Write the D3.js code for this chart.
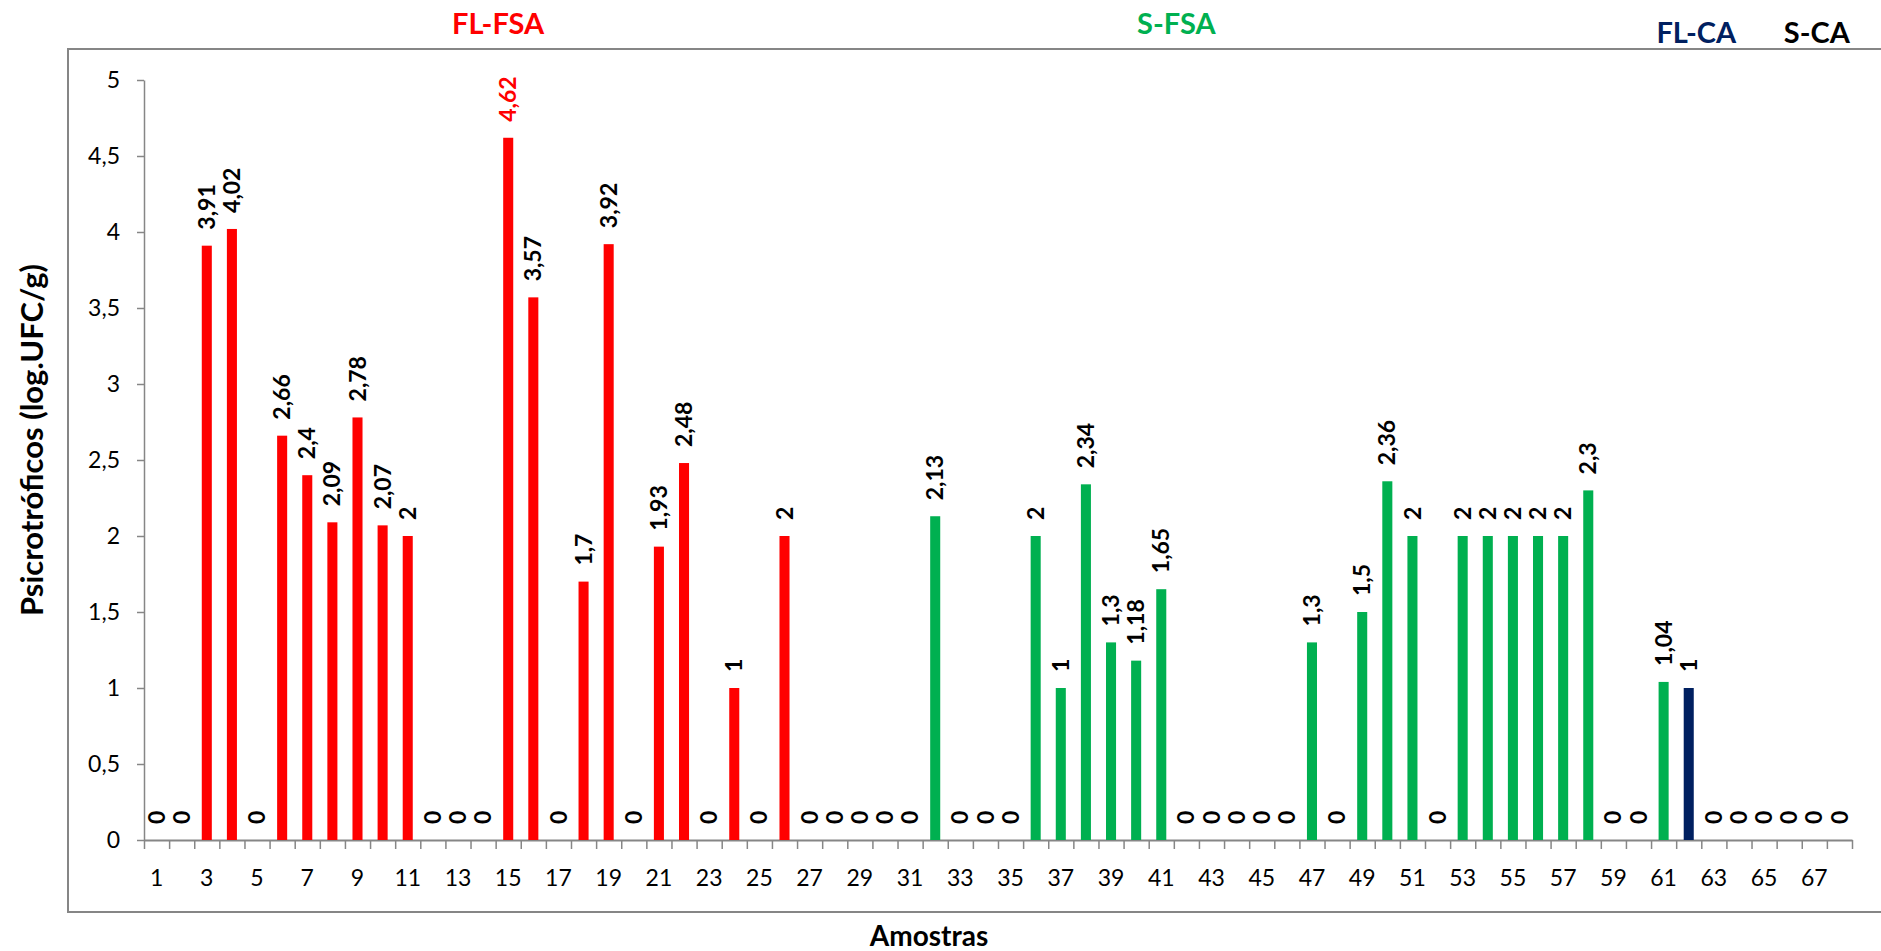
<!DOCTYPE html>
<html>
<head>
<meta charset="utf-8">
<script src="https://cdn.jsdelivr.net/npm/d3@7"></script>
<style>
  html, body { margin: 0; padding: 0; background: #fff; }
  svg { display: block; }
  text { font-family: Lato, "Open Sans", sans-serif; }
</style>
</head>
<body>
<svg id="chart" width="1881" height="951"></svg>
<script>
// Sample numbers (x categories)
const samples = [
  1, 2, 3, 4, 5, 6, 7, 8, 9, 10, 11, 12, 13, 14, 15, 16, 17, 18, 19, 20,
  21, 22, 23, 24, 25, 26, 27, 28, 29, 30, 31, 32, 33, 34, 35, 36, 37, 38, 39, 40,
  41, 42, 43, 44, 45, 46, 47, 48, 49, 50, 51, 52, 53, 54, 55, 56, 57, 58, 59, 60,
  61, 62, 63, 64, 65, 66, 67, 68
];

// Psychrotrophic counts, log UFC/g, one per sample
const psicrotroficos = [
  0, 0, 3.91, 4.02, 0, 2.66, 2.4, 2.09, 2.78, 2.07,
  2, 0, 0, 0, 4.62, 3.57, 0, 1.7, 3.92, 0,
  1.93, 2.48, 0, 1, 0, 2, 0, 0, 0, 0,
  0, 2.13, 0, 0, 0, 2, 1, 2.34, 1.3, 1.18,
  1.65, 0, 0, 0, 0, 0, 1.3, 0, 1.5, 2.36,
  2, 0, 2, 2, 2, 2, 2, 2.3, 0, 0,
  1.04, 1, 0, 0, 0, 0, 0, 0
];

// Sample groups: name and the range of samples each one covers
const groupNames = ["FL-FSA", "S-FSA", "FL-CA", "S-CA"];
const groupFirst = [1, 32, 62, 63];
const groupLast  = [31, 61, 62, 68];

// Y axis tick values
const yTicks = [0, 0.5, 1, 1.5, 2, 2.5, 3, 3.5, 4, 4.5, 5];
// X axis labels shown (every other sample)
const xTickLabels = [1, 3, 5, 7, 9, 11, 13, 15, 17, 19, 21, 23, 25, 27, 29, 31, 33,
  35, 37, 39, 41, 43, 45, 47, 49, 51, 53, 55, 57, 59, 61, 63, 65, 67];

// ---- styling / layout ----
const groupColor = { "FL-FSA": "#FF0000", "S-FSA": "#00B050", "FL-CA": "#002060", "S-CA": "#000000" };
const headerAt = { "FL-FSA": 14.6, "S-FSA": 41.6, "FL-CA": 62.3, "S-CA": 67.1 };   // in sample units
const headerBaseline = { "FL-FSA": 34, "S-FSA": 34, "FL-CA": 43, "S-CA": 43 };
const redLabelSample = 15;
const axisGrey = "#868686";

const plot = { left: 144, right: 1852, top: 80, bottom: 840 };

const svg = d3.select("#chart");
svg.append("rect").attr("width", 1881).attr("height", 951).attr("fill", "#fff");

// outer chart-area border (runs off the right edge)
svg.append("rect")
  .attr("x", 68).attr("y", 49)
  .attr("width", 1900).attr("height", 863)
  .attr("fill", "none").attr("stroke", axisGrey).attr("stroke-width", 2);

const x = d3.scaleBand()
  .domain(samples)
  .range([plot.left, plot.right])
  .paddingInner(0.6)
  .paddingOuter(0.3);

// continuous position in sample units (sample k is centred on k)
const xPos = d3.scaleLinear()
  .domain([0.5, samples.length + 0.5])
  .range([plot.left, plot.right]);

const y = d3.scaleLinear().domain([0, 5]).range([plot.bottom, plot.top]);

const locale = d3.formatLocale({ decimal: ",", thousands: ".", grouping: [3], currency: ["", ""] });
const fmt = locale.format("~g");

function groupOf(s) {
  for (let i = 0; i < groupNames.length; i++) {
    if (s >= groupFirst[i] && s <= groupLast[i]) return groupNames[i];
  }
  return groupNames[groupNames.length - 1];
}

const data = samples.map((s, i) => ({ sample: s, value: psicrotroficos[i], group: groupOf(s) }));

// ---- Y axis ----
const yAxis = svg.append("g")
  .attr("transform", `translate(${plot.left},0)`)
  .call(d3.axisLeft(y).tickValues(yTicks).tickFormat(fmt).tickSize(7).tickSizeOuter(0).tickPadding(17));
yAxis.select(".domain").attr("stroke", axisGrey).attr("stroke-width", 1.5);
yAxis.selectAll(".tick line").attr("stroke", axisGrey).attr("stroke-width", 1.5);
yAxis.selectAll(".tick text")
  .attr("fill", "#000").style("font-family", "Lato, sans-serif").style("font-size", "23px");

// ---- X axis: ticks on category boundaries ----
const edgeTicks = d3.range(0.5, samples.length + 1, 1);
const xAxisTicks = svg.append("g")
  .attr("transform", `translate(0,${plot.bottom})`)
  .call(d3.axisBottom(xPos).tickValues(edgeTicks).tickFormat("").tickSize(9).tickSizeOuter(0));
xAxisTicks.select(".domain").attr("stroke", axisGrey).attr("stroke-width", 2);
xAxisTicks.selectAll(".tick line").attr("stroke", axisGrey).attr("stroke-width", 1.5);

const xAxisLabels = svg.append("g")
  .attr("transform", `translate(0,${plot.bottom})`)
  .call(d3.axisBottom(x).tickValues(xTickLabels).tickSize(0));
xAxisLabels.select(".domain").remove();
xAxisLabels.selectAll(".tick text")
  .attr("y", 46).attr("dy", 0)
  .attr("fill", "#000").style("font-family", "Lato, sans-serif").style("font-size", "23px");

// ---- bars ----
svg.append("g").selectAll("rect")
  .data(data.filter(d => d.value > 0))
  .join("rect")
  .attr("x", d => x(d.sample))
  .attr("y", d => y(d.value))
  .attr("width", x.bandwidth())
  .attr("height", d => y(0) - y(d.value))
  .attr("fill", d => groupColor[d.group]);

// ---- value labels (rotated) ----
svg.append("g").selectAll("text")
  .data(data)
  .join("text")
  .attr("transform", d => `translate(${x(d.sample) + x.bandwidth() / 2},${y(d.value) - 16}) rotate(-90)`)
  .attr("dy", "0.35em")
  .attr("text-anchor", "start")
  .style("font-family", "Lato, sans-serif")
  .style("font-weight", "bold")
  .style("font-size", "23px")
  .attr("fill", d => d.sample === redLabelSample ? "#FF0000" : "#000")
  .text(d => fmt(d.value));

// ---- group headers ----
svg.append("g").selectAll("text")
  .data(groupNames)
  .join("text")
  .attr("x", g => xPos(headerAt[g]))
  .attr("y", g => headerBaseline[g])
  .attr("text-anchor", "middle")
  .style("font-family", "Lato, sans-serif")
  .style("font-weight", "bold")
  .style("font-size", "29px")
  .attr("fill", g => groupColor[g])
  .text(g => g);

// ---- axis titles ----
svg.append("text")
  .attr("transform", "translate(32,440) rotate(-90)")
  .attr("dy", "0.35em")
  .attr("text-anchor", "middle")
  .style("font-family", "Lato, sans-serif")
  .style("font-weight", "bold")
  .style("font-size", "31px")
  .attr("fill", "#000")
  .text("Psicrotróficos (log.UFC/g)");

svg.append("text")
  .attr("x", 929).attr("y", 946)
  .attr("text-anchor", "middle")
  .style("font-family", "Lato, sans-serif")
  .style("font-weight", "bold")
  .style("font-size", "28px")
  .attr("fill", "#000")
  .text("Amostras");
</script>
</body>
</html>
